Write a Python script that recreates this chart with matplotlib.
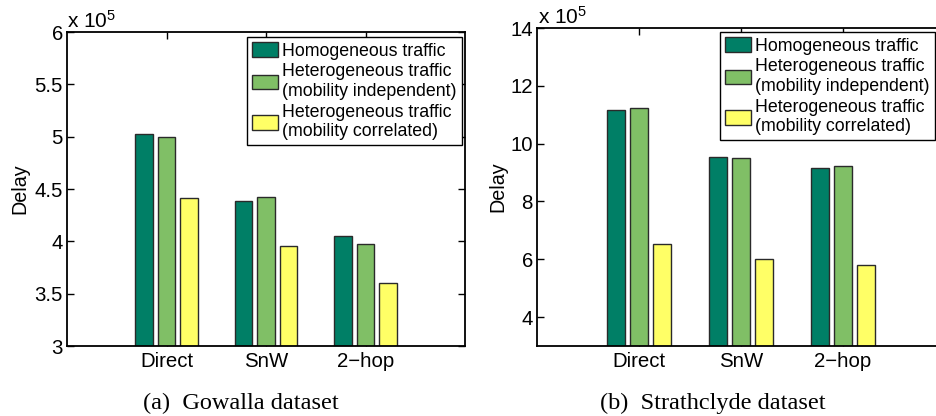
import numpy as np
import matplotlib
matplotlib.use("Agg")
from matplotlib import pyplot as plt

plt.rcParams['font.family'] = ['Liberation Sans', 'DejaVu Sans']
plt.rcParams['mathtext.fontset'] = 'custom'
plt.rcParams['mathtext.rm'] = 'Liberation Sans'
plt.rcParams['mathtext.it'] = 'Liberation Sans'

schemes = ["Direct", "SnW", "2\u2212hop"]
series_names = ["Homogeneous traffic",
                "Heterogeneous traffic\n(mobility independent)",
                "Heterogeneous traffic\n(mobility correlated)"]
# MATLAB "summer" colormap, three levels
colors = ["#007f66", "#80bf66", "#ffff66"]

# delay values, in units of 1e5
gowalla_homog = [5.03, 4.39, 4.055]
gowalla_indep = [5.00, 4.42, 3.97]
gowalla_corr = [4.41, 3.96, 3.60]

strath_homog = [11.18, 9.53, 9.14]
strath_indep = [11.22, 9.52, 9.22]
strath_corr = [6.52, 6.01, 5.80]

W, H = 936, 416
fig = plt.figure(figsize=(W / 100, H / 100), dpi=100)

TICK_FS = 14.7


def px_axes(left, top, right, bottom):
    return fig.add_axes([left / W, (H - bottom) / H, (right - left) / W, (bottom - top) / H])


def draw_panel(ax, data, ylim, yticks, ytick_labels):
    x = np.arange(1, len(schemes) + 1)
    step, width = 0.225, 0.176
    for i, vals in enumerate(data):
        ax.bar(x + (i - 1) * step, vals, width, bottom=0, color=colors[i],
               edgecolor="#2a2a2a", linewidth=1.0, label=series_names[i], zorder=2)
    ax.set_xlim(0, 4)
    ax.set_ylim(*ylim)
    ax.set_xticks(x)
    ax.set_xticklabels(schemes)
    ax.set_yticks(yticks)
    ax.set_yticklabels(ytick_labels)
    ax.tick_params(direction="in", length=5, width=1, labelsize=TICK_FS,
                   top=True, right=True)
    ax.tick_params(axis="y", pad=3)
    ax.tick_params(axis="x", pad=4.5)
    for s in ax.spines.values():
        s.set_linewidth(1.3)
    ax.set_ylabel("Delay", fontsize=14.2)


ax1 = px_axes(67, 32, 465, 346)
draw_panel(ax1, [gowalla_homog, gowalla_indep, gowalla_corr], (3, 6),
           [3, 3.5, 4, 4.5, 5, 5.5, 6], ["3", "3.5", "4", "4.5", "5", "5.5", "6"])
ax1.yaxis.set_label_coords((29 - 67) / 398, 0.5)

ax2 = px_axes(537, 28, 945, 346)
draw_panel(ax2, [strath_homog, strath_indep, strath_corr], (3, 14),
           [4, 6, 8, 10, 12, 14], ["4", "6", "8", "10", "12", "14"])
ax2.yaxis.set_label_coords((507 - 537) / 408, 0.5)

for ax, (lx, ly) in [(ax1, (247, 37)), (ax2, (720, 32))]:
    leg = ax.legend(loc="upper left", bbox_to_anchor=(lx / W, 1 - ly / H),
                    bbox_transform=fig.transFigure, fontsize=12.8,
                    frameon=True, fancybox=False, framealpha=1,
                    edgecolor="black", handlelength=1.46, handleheight=0.9,
                    handletextpad=0.22, labelspacing=0.2, borderpad=0.3,
                    borderaxespad=0)
    leg.get_frame().set_linewidth(1.0)

# exponent labels above each y axis
fig.text(67 / W, 1 - 28 / H, r"x 10$^5$", fontsize=15, ha="left", va="baseline")
fig.text(538 / W, 1 - 24 / H, r"x 10$^5$", fontsize=15, ha="left", va="baseline")

fig.text(241 / W, 1 - 403 / H, "(a)  Gowalla dataset", family="Liberation Serif",
         fontsize=17.5, ha="center", va="center")
fig.text(713 / W, 1 - 403 / H, "(b)  Strathclyde dataset", family="Liberation Serif",
         fontsize=17.5, ha="center", va="center")

fig.savefig("out.png", dpi=100)
